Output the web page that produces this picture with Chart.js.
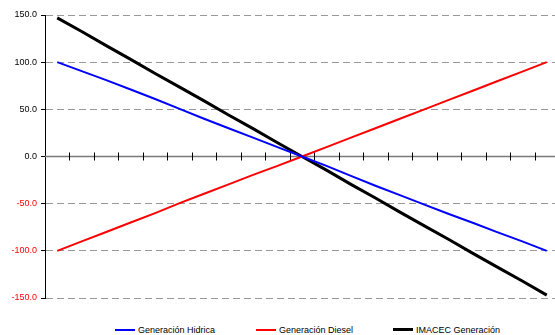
<!DOCTYPE html>
<html>
<head>
<meta charset="utf-8">
<script src="https://cdn.jsdelivr.net/npm/chart.js@4"></script>
<style>
  html, body { margin:0; padding:0; background:#fff; overflow:hidden; width:555px; height:335px; }
  #wrap { position:absolute; left:0; top:0; width:560px; height:310px; }
  #legend { position:absolute; left:0; top:323px; width:555px; height:13px; font-family:"Liberation Sans", Arial, sans-serif; font-size:9px; color:#000; }
  .item { position:absolute; top:0; display:flex; align-items:center; height:13px; white-space:nowrap; }
  .sw { width:20px; margin-right:3px; }
</style>
</head>
<body>
<div id="wrap"><canvas id="c"></canvas></div>
<div id="legend"></div>
<script>
// ---- data ----
const categories = ["1","2","3","4","5","6","7","8","9","10","11","12","13","14","15","16","17","18","19","20","21"];
const hidrica = [100, 90.5, 81, 71, 61, 50.5, 40, 30, 20, 10, 0, -10, -20.5, -31, -41, -51, -61, -70.5, -80.5, -90, -100];
const diesel  = [-100, -90, -80, -70, -60, -49.5, -39.5, -29.5, -19.5, -10, 0, 10, 20, 30, 40, 50, 60, 70, 80, 90, 100];
const imacec  = [147, 132.5, 117.5, 103, 88, 73.5, 59, 44, 29.5, 14.5, 0, -14.5, -29.5, -44, -59, -73.5, -88, -103, -117.5, -132, -147];
const seriesNames = ["Generación Hidrica", "Generación Diesel", "IMACEC Generación"];
const yTicks = [-150, -100, -50, 0, 50, 100, 150];

const FONT = '"Liberation Sans", Arial, sans-serif';

const zeroAxis = {
  id: 'zeroAxis',
  beforeDatasetsDraw(chart) {
    const {ctx, chartArea} = chart;
    const xs = chart.scales.x, ys = chart.scales.y;
    const y0 = ys.getPixelForValue(0);
    ctx.save();
    ctx.strokeStyle = '#7a7a7a';
    ctx.lineWidth = 1.5;
    ctx.beginPath();
    ctx.moveTo(chartArea.left, y0);
    ctx.lineTo(chartArea.right, y0);
    ctx.stroke();
    ctx.strokeStyle = '#000';
    ctx.lineWidth = 1;
    for (let i = 1; i < categories.length; i++) {
      const x = Math.round((xs.getPixelForValue(i - 1) + xs.getPixelForValue(i)) / 2) + 0.5;
      ctx.beginPath();
      ctx.moveTo(x, y0 - 4);
      ctx.lineTo(x, y0 + 4);
      ctx.stroke();
    }
    ctx.restore();
  }
};

const chart = new Chart(document.getElementById('c'), {
  type: 'line',
  data: {
    labels: categories,
    datasets: [
      { label: seriesNames[0], data: hidrica, borderColor: '#0000ff', borderWidth: 2, pointRadius: 0, tension: 0, fill: false },
      { label: seriesNames[1], data: diesel,  borderColor: '#ff0000', borderWidth: 2, pointRadius: 0, tension: 0, fill: false },
      { label: seriesNames[2], data: imacec,  borderColor: '#000000', borderWidth: 3, pointRadius: 0, tension: 0, fill: false }
    ]
  },
  options: {
    responsive: true,
    maintainAspectRatio: false,
    animation: false,
    devicePixelRatio: 1,
    layout: { padding: { top: 15, left: 0, right: 1, bottom: 12 } },
    plugins: { legend: { display: false }, tooltip: { enabled: false } },
    scales: {
      x: { type: 'category', display: false, offset: true },
      y: {
        min: -150, max: 150,
        afterBuildTicks(scale) { scale.ticks = yTicks.map(v => ({ value: v })); },
        afterFit(scale) { scale.width = 45; },
        border: { display: true, color: '#000', width: 1, dash: [7, 4] },
        grid: {
          color: c => (c.tick && c.tick.value === 0) ? 'rgba(0,0,0,0)' : '#999999',
          tickBorderDash: [],
          tickColor: '#000',
          tickLength: 4,
          lineWidth: 1,
          drawTicks: true
        },
        ticks: {
          padding: 4,
          font: { family: FONT, size: 9 },
          color: c => c.tick.value < 0 ? '#ff0000' : '#000000',
          callback: v => Number(v).toFixed(1)
        }
      }
    }
  },
  plugins: [zeroAxis]
});

// legend built from the chart's datasets
const legendLefts = [115, 256, 393];
const legend = document.getElementById('legend');
chart.data.datasets.forEach((ds, i) => {
  const it = document.createElement('div');
  it.className = 'item';
  it.style.left = legendLefts[i] + 'px';
  const sw = document.createElement('span');
  sw.className = 'sw';
  sw.style.height = ds.borderWidth + 'px';
  sw.style.background = ds.borderColor;
  const tx = document.createElement('span');
  tx.textContent = ds.label;
  it.appendChild(sw); it.appendChild(tx);
  legend.appendChild(it);
});
</script>
</body>
</html>
